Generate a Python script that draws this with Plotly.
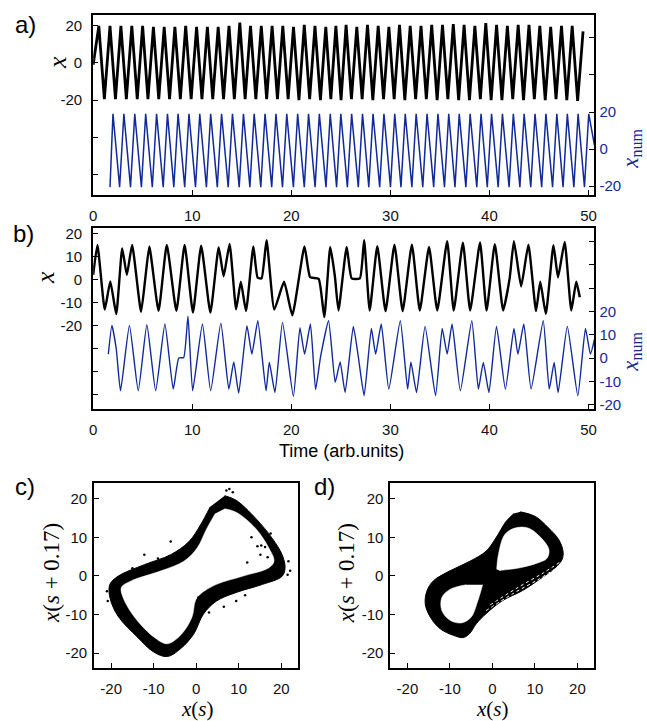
import plotly.graph_objects as go

BLUE = '#12299b'

# ---------------- panel a) : peaks / troughs ----------
a_x_start = (0.0, -1.0)
a_x_peak_t = [0.57, 1.70, 2.80, 3.90, 4.99, 6.08, 7.17, 8.25, 9.34, 10.44, 11.53, 12.62, 13.71, 14.80, 15.88,
              16.97, 18.06, 19.14, 20.22, 21.31, 22.39, 23.48, 24.50, 25.53, 26.61, 27.69, 28.77, 29.85, 30.92,
              32.00, 33.09, 34.17, 35.26, 36.35, 37.44, 38.53, 39.63, 40.72, 41.81, 42.90, 43.99, 45.08, 46.18,
              47.27, 48.35]
a_x_peak_v = [20, 20, 20, 20, 20, 19.5, 19.5, 19.5, 20, 19.5, 19.5, 19.5, 20, 21.8, 20,
              20, 20, 20, 19.5, 20.5, 20, 19.5, 20, 20.5, 19.5, 20.5, 20, 19.5, 20.5,
              20, 20, 20.5, 20.5, 21, 20.5, 20, 21.5, 20.5, 20, 20.5, 20.5, 20, 19.5,
              20, 20]
a_x_trough_t = [1.13, 2.25, 3.35, 4.45, 5.53, 6.62, 7.71, 8.80, 9.89, 10.98, 12.07, 13.16, 14.25, 15.34, 16.42,
                17.51, 18.60, 19.68, 20.77, 21.85, 22.94, 23.99, 25.02, 26.07, 27.15, 28.23, 29.31, 30.38, 31.46,
                32.55, 33.63, 34.72, 35.80, 36.89, 37.98, 39.08, 40.17, 41.26, 42.35, 43.44, 44.53, 45.63, 46.72,
                47.81, 48.90]
a_x_trough_v = [-19.5, -19.5, -19.5, -19.5, -19.5, -19.5, -19.5, -19.5, -19.5, -19.5, -19.5, -19.5, -19.5, -19.5, -19.5,
                -19.5, -19.5, -19.5, -20, -19.5, -20, -19.5, -20, -19.5, -19.5, -20, -19.5, -19.5, -20,
                -19.5, -19.5, -20, -19.5, -20, -20, -19.5, -20, -20, -19.5, -20, -19.5, -20, -19.5,
                -20, -20.5]
a_x_end = (49.45, 17.0)

a_num_peak_t = [2.00, 3.10, 4.20, 5.30, 6.40, 7.50, 8.57, 9.67, 10.76, 11.86, 12.96, 14.06, 15.17, 16.25, 17.35,
                18.45, 19.54, 20.64, 21.74, 22.83, 23.93, 25.00, 26.09, 27.19, 28.25, 29.35, 30.44, 31.50, 32.60,
                33.70, 34.80, 35.89, 36.95, 38.05, 39.15, 40.21, 41.31, 42.41, 43.50, 44.60, 45.70, 46.80, 47.86,
                48.95, 50.02]
a_num_peak_v = [19, 19, 19, 19, 19, 19, 19, 19, 19, 19, 19, 19, 19, 19, 19,
                19, 19, 19, 19, 19, 19, 19, 19, 19, 19, 19, 19, 19, 19,
                19, 19, 19, 19, 19, 19, 19, 19, 19, 19, 19, 19, 19, 19,
                19, 19]
a_num_trough_t = [1.70, 2.67, 3.77, 4.87, 5.97, 7.07, 8.14, 9.24, 10.33, 11.43, 12.53, 13.63, 14.74, 15.82, 16.92,
                  18.02, 19.11, 20.21, 21.31, 22.40, 23.50, 24.57, 25.66, 26.76, 27.82, 28.92, 30.01, 31.07, 32.17,
                  33.27, 34.37, 35.46, 36.52, 37.62, 38.72, 39.78, 40.88, 41.98, 43.07, 44.17, 45.27, 46.37, 47.43,
                  48.52, 49.59]
a_num_trough_v = [-20.5, -20.5, -20.5, -20.5, -20.5, -20.5, -20.5, -20.5, -20.5, -20.5, -20.5, -20.5, -20.5, -20.5, -20.5,
                  -20.5, -20.5, -20.5, -20.5, -20.5, -20.5, -20.5, -20.5, -20.5, -20.5, -20.5, -20.5, -20.5, -20.5,
                  -20.5, -20.5, -20.5, -20.5, -20.5, -20.5, -20.5, -20.5, -20.5, -20.5, -20.5, -20.5, -20.5, -20.5,
                  -20.5, -20.5]
a_num_end = (50.6, 2.0)

# ---------------- panel b) : turning points ------------
b_x_t = [0.00, 0.43, 1.17, 1.73, 2.33, 2.93, 3.40, 3.93, 4.83, 5.25, 5.67, 6.60, 7.43, 8.40, 9.23, 10.07, 10.90,
         11.83, 12.67, 13.17, 13.77, 14.43, 14.90, 15.43, 16.17, 16.60, 17.00, 17.50, 18.28, 19.27, 20.10, 21.33,
         21.90, 22.76, 23.33, 23.93, 24.40, 24.76, 25.59, 26.09, 26.92, 27.35, 27.91, 28.68, 29.51, 30.41, 31.24,
         32.17, 32.97, 33.90, 34.73, 35.73, 36.39, 37.32, 38.05, 39.05, 39.71, 40.54, 41.38, 42.04, 42.47, 43.20,
         43.93, 44.70, 45.13, 45.69, 46.46, 46.92, 47.59, 48.26, 48.76, 49.12]
b_x_v = [2, 15, -13, -0.8, -15, 13.5, 2, 15, -14, 0, 14.3, -13.6, 15, -13.6, 15, -14.3, 14.7,
         -14.3, 13.9, 1.4, 15.4, -12.9, -1, -13.6, 14.3, 0.8, 0.5, 17, -13, -1, -15.5, 14.3,
         1, 0.3, -16.3, 14.1, 1.3, -13.4, 14.1, 0.5, 0.5, 17, -13.4, 14.4, -13.7, 15.1, -13.7,
         15.1, -13.4, 14.1, -13.4, 16.6, -13.4, 15.9, -13.4, 16, -13.4, 15.3, -13.4, 0.5, 16.6, -3,
         15.1, -13.7, -1, -14.9, 14.9, 0.9, 16.3, -13.4, -1, -7.7]

b_num_t = [1.53, 1.89, 2.33, 2.76, 3.66, 4.55, 5.42, 6.31, 7.24, 8.08, 8.64, 9.14, 9.57, 10.04, 11.03, 11.86,
           12.89, 13.69, 14.19, 14.69, 15.52, 16.02, 16.62, 17.45, 17.78, 18.35, 19.11, 20.21, 20.87, 21.34,
           21.93, 22.45, 22.95, 23.76, 24.43, 24.93, 25.43, 26.26, 26.75, 27.35, 28.08, 28.51, 29.08, 29.84,
           31.00, 31.74, 32.07, 32.64, 33.50, 34.56, 35.23, 35.73, 36.23, 37.06, 38.22, 38.88, 39.38, 39.95,
           40.71, 41.61, 42.47, 42.87, 43.47, 44.20, 45.43, 46.03, 46.53, 46.93, 47.86, 48.92, 49.69, 50.19, 50.60]
b_num_v = [1.7, 14, 4, -14, 14, -14, 14.3, -14, 14.6, -13.3, 0, 0.3, 17.9, -14, 14.6, -14,
           15, -13.3, -1.6, -15, 13.9, 1.7, 16, -14, -1.8, -14.7, 15.3, -16.4, 13, 1.7,
           14.6, -13.5, 0.5, 16, -10.4, -1.6, -14.7, 13.6, 1, -16.1, 12.7, 1.7, 14.6, -13.3,
           16, -13.3, -1.6, -14.7, 13.6, -16.1, 12.7, 1.7, 14.6, -14, 16, -13.3, -1.9, -14.7,
           13.6, -13.3, 12.7, 1.7, 14.6, -13.3, 16, -13.3, -1.9, -14.7, 13.6, -16.1, 12.7, 1.7, 8]

# ---------------- panel c) : band outline --------------
c_outer_x = [6.7, 9.4, 14.0, 17.9, 20.2, 20.9, 20.2, 15.6, 9.4, 4.8, 1.7, -0.6, -3.7, -6.8, -9.9, -13.8,
             -18.4, -20.3, -20.3, -18.4, -12.2, -6.0, -1.7, 1.0, 3.3]
c_outer_y = [20.8, 19.6, 14.9, 9.7, 5.5, 2.1, -0.1, -2.2, -4.3, -6.5, -9.9, -15.1, -18.9, -20.9, -19.8, -15.9,
             -10.4, -5.6, -2.2, -0.1, 2.9, 5.5, 8.9, 13.2, 17.9]
c_inner_x = [6.7, 9.4, 14.0, 17.1, 18.3, 17.1, 10.9, 4.8, 0.9, -0.2, -1.0, -3.7, -6.8, -9.9, -14.5, -17.2,
             -17.6, -15.3, -8.3, -2.9, 0.2, 2.5, 4.5]
c_inner_y = [17.4, 16.5, 12.3, 7.2, 3.8, 2.1, -0.1, -2.2, -4.8, -6.5, -10.7, -15.4, -17.6, -15.9, -10.7, -5.6,
             -3.0, -1.3, 1.3, 3.8, 7.2, 12.3, 16.2]
c_dot_x = [7.1, 8.6, 7.8, 14.4, 15.3, 16.2, 15.1, 16.8, 21.7, 22.1, 21.5, 0.5, 0.8, 0.3, 9.4, 11.5, 6.5, 3.0,
           -12.2, -6.0, -9.0, -15.0, -21.0, -20.8, 13.0, 17.5, 12.0]
c_dot_y = [22.1, 21.7, 22.5, 7.7, 7.9, 7.5, 5.5, 4.8, 3.8, 1.3, 0.3, -5.6, -7.3, -6.4, -6.5, -5.0, -8.0, -9.5,
           5.5, 8.9, 4.5, 2.0, -4.0, -6.5, 10.0, 11.0, 3.5]

# ---------------- panel d) : figure-eight outline ------
d_outer_x = [6.6, 10.1, 13.2, 15.6, 16.6, 16.4, 14.8, 11.7, 7.1, 2.4, -1.5, -3.8, -5.4, -6.9, -9.2, -12.3,
             -14.6, -15.8, -15.4, -13.9, -10.0, -5.3, -1.5, 0.8, 3.2, 5.1]
d_outer_y = [16.6, 15.4, 12.4, 9.4, 6.4, 4.3, 2.1, -0.4, -3.8, -6.4, -9.8, -12.4, -15.0, -16.0, -15.4, -13.7,
             -10.7, -7.3, -3.9, -1.3, 1.3, 3.8, 6.4, 9.8, 14.1, 16.2]
d_hole1_x = [1.0, 1.4, 2.9, 5.3, 8.4, 11.5, 13.3, 12.8, 11.0, 6.5, 1.6]
d_hole1_y = [1.7, 5.5, 10.7, 12.4, 12.4, 9.8, 6.8, 4.5, 3.5, 2.1, 1.4]
d_hole2_x = [-2.3, -3.5, -5.0, -7.3, -10.0, -11.9, -11.9, -10.0, -6.2]
d_hole2_y = [-2.3, -6.7, -10.7, -12.2, -11.5, -9.0, -5.6, -3.5, -2.3]
d_stria_x = [[-0.5, 6.0, 12.0, 15.8], [-1.5, 5.0, 11.0, 15.0]]
d_stria_y = [[-7.5, -3.0, 0.8, 3.5], [-9.0, -4.5, -0.8, 2.0]]

time_ticks = [0, 10, 20, 30, 40, 50]
phase_ticks = [-20, -10, 0, 10, 20]


def merge(start, pt, pv, tt, tv, end):
    pts = [start] + list(zip(pt, pv)) + list(zip(tt, tv)) + [end]
    pts.sort(key=lambda p: p[0])
    return [p[0] for p in pts], [p[1] for p in pts]


def labels(vals):
    return [str(v) for v in vals]   # plain hyphen-minus, as in the reference


ax_t, ax_v = merge(a_x_start, a_x_peak_t, a_x_peak_v, a_x_trough_t, a_x_trough_v, a_x_end)
an_t, an_v = merge((a_num_trough_t[0], a_num_trough_v[0]), a_num_peak_t, a_num_peak_v,
                   a_num_trough_t[1:], a_num_trough_v[1:], a_num_end)

fig = go.Figure()
fig.add_trace(go.Scatter(x=ax_t, y=ax_v, mode='lines', line=dict(color='black', width=2.8),
                         xaxis='x', yaxis='y'))
fig.add_trace(go.Scatter(x=an_t, y=an_v, mode='lines', line=dict(color=BLUE, width=1.5),
                         xaxis='x', yaxis='y2'))
fig.add_trace(go.Scatter(x=b_x_t, y=b_x_v, mode='lines',
                         line=dict(color='black', width=2.4, shape='spline', smoothing=0.45),
                         xaxis='x2', yaxis='y3'))
fig.add_trace(go.Scatter(x=b_num_t, y=b_num_v, mode='lines',
                         line=dict(color=BLUE, width=1.4, shape='spline', smoothing=0.45),
                         xaxis='x2', yaxis='y4'))

# c)
fig.add_trace(go.Scatter(x=c_outer_x, y=c_outer_y, mode='lines', fill='toself', fillcolor='black',
                         line=dict(color='black', width=1, shape='spline'), xaxis='x3', yaxis='y5'))
fig.add_trace(go.Scatter(x=c_inner_x, y=c_inner_y, mode='lines', fill='toself', fillcolor='white',
                         line=dict(color='white', width=0.5, shape='spline'), xaxis='x3', yaxis='y5'))
fig.add_trace(go.Scatter(x=c_dot_x, y=c_dot_y, mode='markers', marker=dict(color='black', size=2.5),
                         xaxis='x3', yaxis='y5'))
# d)
fig.add_trace(go.Scatter(x=d_outer_x, y=d_outer_y, mode='lines', fill='toself', fillcolor='black',
                         line=dict(color='black', width=1, shape='spline'), xaxis='x4', yaxis='y6'))
for hx, hy in [(d_hole1_x, d_hole1_y), (d_hole2_x, d_hole2_y)]:
    fig.add_trace(go.Scatter(x=hx, y=hy, mode='lines', fill='toself', fillcolor='white',
                             line=dict(color='white', width=0.5, shape='spline'), xaxis='x4', yaxis='y6'))
for sx, sy in zip(d_stria_x, d_stria_y):
    fig.add_trace(go.Scatter(x=sx, y=sy, mode='lines',
                             line=dict(color='white', width=1, dash='dot', shape='spline'),
                             xaxis='x4', yaxis='y6'))

W, H = 647, 721


def px(x):
    return x / W


def py(y):
    return 1 - y / H


tickfont = dict(family='Liberation Sans, Arial, sans-serif', size=15, color='#111111')
base = dict(ticks='inside', ticklen=5, tickwidth=1.2, tickcolor='black', showline=True, linecolor='black',
            linewidth=2, mirror=True, showgrid=False, zeroline=False, tickfont=tickfont)


def minor(vals):
    return dict(tickmode='array', tickvals=vals, ticks='inside', ticklen=5, tickwidth=1.2,
                tickcolor='black', showgrid=False)


lab_a = [-20, 0, 20]
lab_b = [-20, -10, 0, 10, 20]

layout_axes = dict(
    xaxis=dict(base, domain=[px(90), px(596)], anchor='y', range=[0, 50.6], tickvals=time_ticks,
               ticktext=labels(time_ticks), ticklabelstandoff=6),
    yaxis=dict(base, domain=[py(194), py(12)], anchor='x', range=[-71.2, 25.9],
               tickvals=lab_a, ticktext=labels(lab_a), minor=minor([-60, -40]), ticklabelstandoff=6),
    yaxis2=dict(base, overlaying='y', side='right', anchor='x', range=[-24.8, 72.4], showline=False, mirror=False,
                tickvals=lab_a, ticktext=labels(lab_a), minor=minor([40, 60]),
                tickfont=dict(tickfont, color=BLUE), ticklabelstandoff=4),
    xaxis2=dict(base, domain=[px(90), px(596)], anchor='y3', range=[0, 50.6], tickvals=time_ticks,
                ticktext=labels(time_ticks), ticklabelstandoff=6),
    yaxis3=dict(base, domain=[py(410), py(227)], anchor='x2', range=[-56.1, 22.4],
                tickvals=lab_b, ticktext=labels(lab_b), minor=minor([-50, -40, -30]), ticklabelstandoff=6),
    yaxis4=dict(base, overlaying='y3', side='right', anchor='x2', range=[-21.8, 55.8], showline=False, mirror=False,
                tickvals=lab_b, ticktext=labels(lab_b), minor=minor([30, 40, 50]),
                tickfont=dict(tickfont, color=BLUE), ticklabelstandoff=4),
    xaxis3=dict(base, domain=[px(91), px(297)], anchor='y5', range=[-24, 24], tickvals=phase_ticks,
                ticktext=labels(phase_ticks), ticklabelstandoff=6),
    yaxis5=dict(base, domain=[py(672), py(485)], anchor='x3', range=[-24, 24], tickvals=phase_ticks,
                ticktext=labels(phase_ticks), ticklabelstandoff=2),
    xaxis4=dict(base, domain=[px(390), px(596)], anchor='y6', range=[-24, 24], tickvals=phase_ticks,
                ticktext=labels(phase_ticks), ticklabelstandoff=6),
    yaxis6=dict(base, domain=[py(672), py(485)], anchor='x4', range=[-24, 24], tickvals=phase_ticks,
                ticktext=labels(phase_ticks), ticklabelstandoff=2),
)

serif = 'Liberation Serif, Times New Roman, serif'
sans = 'Liberation Sans, Arial, sans-serif'


def ann(text, x, y, size, family, color='black', angle=0):
    return dict(text=text, x=px(x), y=py(y), xref='paper', yref='paper', showarrow=False,
                xanchor='center', yanchor='middle', textangle=angle,
                font=dict(family=family, size=size, color=color))


annotations = [
    ann('a)', 22, 22, 24, sans),
    ann('b)', 20, 233, 24, sans),
    ann('c)', 21, 488, 24, sans),
    ann('d)', 323, 488, 24, sans),
    ann('<i>x</i>', 54, 60, 26, serif, angle=-90),
    ann('<i>x</i>', 42, 277, 26, serif, angle=-90),
    ann('<i>x</i><sub>num</sub>', 633, 147, 23, serif, BLUE, angle=-90),
    ann('<i>x</i><sub>num</sub>', 633, 352, 23, serif, BLUE, angle=-90),
    ann('Time (arb.units)', 341, 452, 18, sans),
    ann('<i>x</i>(<i>s</i>)', 195, 713, 21, serif),
    ann('<i>x</i>(<i>s</i>)', 493, 713, 21, serif),
    ann('<i>x</i>(<i>s</i> + 0.17)', 48, 576, 23, serif, angle=-90),
    ann('<i>x</i>(<i>s</i> + 0.17)', 346, 576, 23, serif, angle=-90),
]

fig.update_layout(width=W, height=H, margin=dict(l=0, r=0, t=0, b=0), showlegend=False,
                  plot_bgcolor='white', paper_bgcolor='white', annotations=annotations, **layout_axes)

fig.write_html('out.html', config={'displayModeBar': False},
               post_script="document.body.style.margin='0';document.body.style.overflow='hidden';")
